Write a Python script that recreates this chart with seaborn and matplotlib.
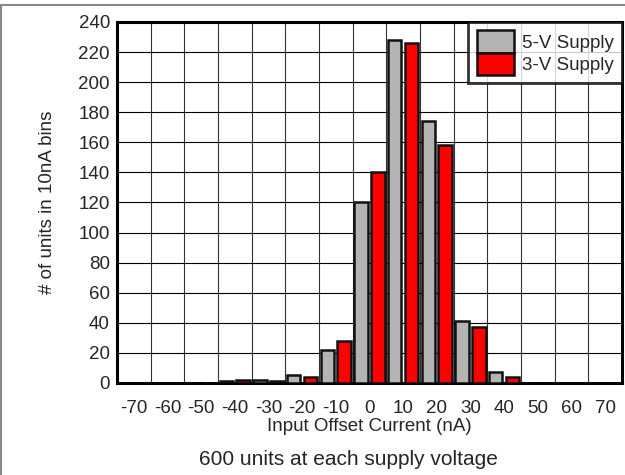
import pandas as pd
import matplotlib.pyplot as plt
import seaborn as sns
from matplotlib.lines import Line2D

# histogram bins (nA) and counts per supply voltage
bins = [-70, -60, -50, -40, -30, -20, -10, 0, 10, 20, 30, 40, 50, 60, 70]
supply_5v = [0, 0, 0, 1, 2, 5, 22, 120, 228, 174, 41, 7, 0, 0, 0]
supply_3v = [0, 0, 0, 2, 1, 4, 28, 140, 226, 158, 37, 4, 0, 0, 0]
y_ticks = list(range(0, 241, 20))

df = pd.DataFrame({'bin': bins * 2,
                   'count': supply_5v + supply_3v,
                   'supply': ['5-V Supply'] * len(bins) + ['3-V Supply'] * len(bins)})

sns.set_style("white")
plt.rcParams['font.family'] = ['Liberation Sans', 'DejaVu Sans']

fig = plt.figure(figsize=(6.25, 4.75), dpi=100)
ax = fig.add_axes([0.187, 0.1937, 0.808, 0.76])

sns.barplot(data=df, x='bin', y='count', hue='supply',
            hue_order=['5-V Supply', '3-V Supply'],
            palette={'5-V Supply': '#b4b4b4', '3-V Supply': '#ff0000'},
            width=1.0, gap=0.2, edgecolor='#111111', linewidth=1.8,
            saturation=1, ax=ax, zorder=3)

ax.set_xlim(-0.5, len(bins) - 0.5)
ax.set_ylim(0, 240)
ax.set_yticks(y_ticks)
ax.set_xticks(range(len(bins)))
ax.set_xticklabels([str(b) for b in bins])
ax.set_xticks([i - 0.5 for i in range(1, len(bins))], minor=True)
ax.tick_params(axis='both', which='both', length=0, labelsize=13.5)
ax.tick_params(axis='x', pad=12)
ax.tick_params(axis='y', pad=5)
ax.grid(axis='y', which='major', color='black', linewidth=0.8, zorder=0)
ax.grid(axis='x', which='minor', color='#333333', linewidth=0.8, zorder=0)
ax.set_axisbelow(True)
for s in ax.spines.values():
    s.set_color('black')
    s.set_linewidth(2.2)

ax.set_xlabel('Input Offset Current (nA)', fontsize=13.5, labelpad=1)
ax.set_ylabel('# of units in 10nA bins', fontsize=13.5, labelpad=16)

handles, labels = ax.get_legend_handles_labels()
leg = ax.legend(handles, labels, loc='upper right', borderaxespad=0,
                fontsize=13.5, frameon=True, fancybox=False, edgecolor='black',
                handlelength=2.0, handleheight=1.45, labelspacing=0,
                handletextpad=0.4, borderpad=0.45)
leg.get_frame().set_linewidth(2.0)
leg.set_zorder(5)

fig.text(0.557, 0.032, '600 units at each supply voltage', ha='center',
         va='center', fontsize=15)

# thin gray frame on top and left of the figure
fig.add_artist(Line2D([0.002, 0.002], [0, 0.99], color='#888888', lw=1.5))
fig.add_artist(Line2D([0, 1], [0.99, 0.99], color='#888888', lw=1.5))

fig.savefig('out.png', dpi=100)
